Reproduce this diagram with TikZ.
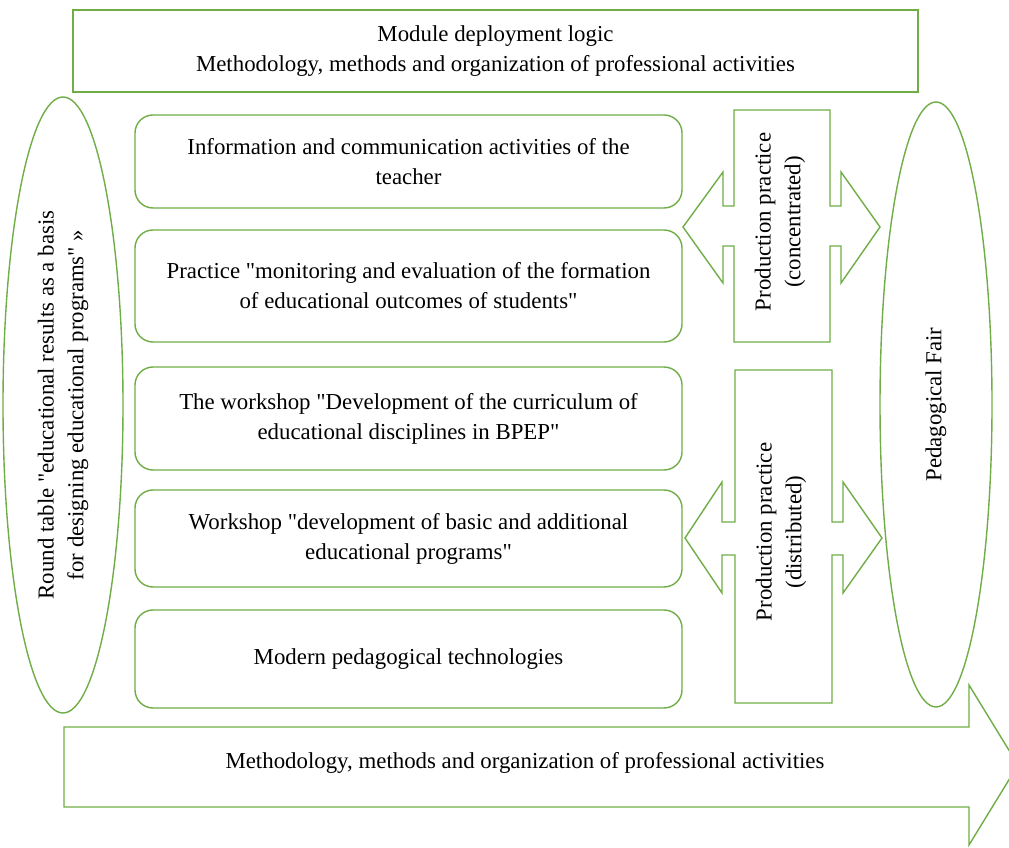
\documentclass[tikz,border=0pt]{standalone}
\usepackage{fontspec}
\setmainfont{Liberation Serif}[Ligatures=TeXOff]
\usetikzlibrary{shapes.geometric}
\definecolor{leaf}{RGB}{112,173,71}
\tikzset{
  frame/.style={draw=leaf,line width=0.8pt},
  txt/.style={align=center,font=\fontsize{13}{17}\selectfont},
  card/.style={frame,txt,rounded corners=0.36cm,minimum width=10.94cm},
  oval/.style={frame,txt,ellipse,rotate=90,inner sep=0pt}
}
\begin{document}
\begin{tikzpicture}
\useasboundingbox (0,0) rectangle (20.18,16.94);
% top frame
\node[frame,txt,minimum width=16.9cm,minimum height=1.64cm] (logic) at (9.91,15.92)
  {Module deployment logic\\Methodology, methods and organization of professional activities};
% side ovals
\node[oval,minimum width=12.32cm,minimum height=2.4cm] (table) at (1.26,8.84)
  {Round table "educational results as a basis\\for designing educational programs" »};
\node[oval,minimum width=12.1cm,minimum height=2.24cm] (fair) at (18.72,8.85) {Pedagogical Fair};
% activities
\node[card,minimum height=1.86cm] (info) at (8.17,13.71) {Information and communication activities of the\\teacher};
\node[card,minimum height=2.24cm] (monitor) at (8.17,11.22) {Practice "monitoring and evaluation of the formation\\of educational outcomes of students"};
\node[card,minimum height=2.06cm] (curric) at (8.17,8.57) {The workshop "Development of the curriculum of\\educational disciplines in BPEP"};
\node[card,minimum height=1.94cm] (progs) at (8.17,6.17) {Workshop "development of basic and additional\\educational programs"};
\node[card,minimum height=1.96cm] (tech) at (8.17,3.76) {Modern pedagogical technologies};
% production practice
\draw[frame] (14.68,14.74) -- (16.60,14.74) -- (16.60,12.82) -- (16.82,12.82) -- (16.82,13.50) -- (17.60,12.40)
  -- (16.82,11.28) -- (16.82,12.02) -- (16.60,12.02) -- (16.60,10.10) -- (14.68,10.10) -- (14.68,12.02)
  -- (14.46,12.02) -- (14.46,11.28) -- (13.66,12.40) -- (14.46,13.50) -- (14.46,12.82) -- (14.68,12.82) -- cycle;
\node[txt,rotate=90] (conc) at (15.60,12.50) {Production practice\\(concentrated)};
\draw[frame] (14.70,9.54) -- (16.64,9.54) -- (16.64,6.50) -- (16.86,6.50) -- (16.86,7.30) -- (17.64,6.18)
  -- (16.86,5.08) -- (16.86,5.84) -- (16.64,5.84) -- (16.64,2.88) -- (14.70,2.88) -- (14.70,5.84)
  -- (14.44,5.84) -- (14.44,5.08) -- (13.70,6.18) -- (14.44,7.30) -- (14.44,6.50) -- (14.70,6.50) -- cycle;
\node[txt,rotate=90] (dist) at (15.62,6.30) {Production practice\\(distributed)};
% bottom arrow
\draw[frame] (1.28,2.40) -- (19.38,2.40) -- (19.38,3.24) -- (20.36,1.64) -- (19.38,0.04) -- (19.38,0.80) -- (1.28,0.80) -- cycle;
\node[txt] (method) at (10.50,1.68) {Methodology, methods and organization of professional activities};
\end{tikzpicture}
\end{document}
